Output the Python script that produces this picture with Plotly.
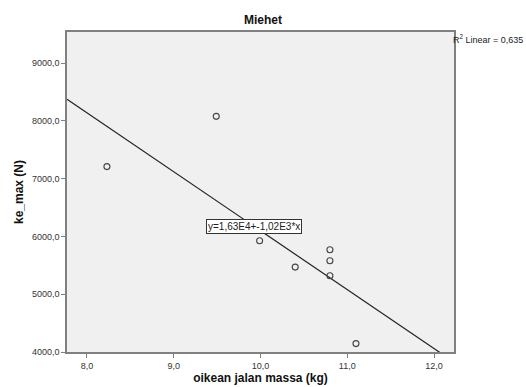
import plotly.graph_objects as go

# Data
mass_kg = [8.23, 9.49, 9.99, 10.40, 10.80, 10.80, 10.80, 11.10]
ke_max_n = [7210, 8080, 5925, 5470, 5770, 5580, 5320, 4145]

intercept = 16300.0
slope = -1020.0
r2_text = "R<sup>2</sup> Linear = 0,635"
eq_text = "y=1,63E4+-1,02E3*x"

x_range = [7.77, 12.23]
y_range = [4000, 9540]
x_ticks = [8, 9, 10, 11, 12]
y_ticks = [4000, 5000, 6000, 7000, 8000, 9000]

line_x = [x_range[0], x_range[1]]
line_y = [intercept + slope * v for v in line_x]

font = "Liberation Sans, Arial, sans-serif"

fig = go.Figure()
fig.add_trace(go.Scatter(x=line_x, y=line_y, mode="lines",
                         line=dict(color="#222222", width=1.2),
                         hoverinfo="skip", showlegend=False))
fig.add_trace(go.Scatter(x=mass_kg, y=ke_max_n, mode="markers",
                         marker=dict(symbol="circle-open", size=6,
                                     color="#444444", line=dict(width=1.1)),
                         showlegend=False))

fig.add_annotation(x=9.92, y=6170, xref="x", yref="y", text=eq_text,
                   showarrow=False, bgcolor="white", bordercolor="#333333",
                   borderwidth=1, borderpad=1,
                   font=dict(family=font, size=10, color="#222222"))
fig.add_annotation(x=1.0, y=1.0, xref="paper", yref="paper", text=r2_text,
                   showarrow=False, xanchor="left", yanchor="top",
                   xshift=-3, yshift=1,
                   font=dict(family=font, size=9, color="#222222"))

fig.update_layout(
    width=526, height=387,
    margin=dict(l=67, r=72, t=32, b=35, autoexpand=False),
    paper_bgcolor="white", plot_bgcolor="#F0F0F0",
    separators=", ",
    title=dict(text="<b>Miehet</b>", x=0.5, xanchor="center", y=0.948,
               yanchor="middle", automargin=False,
               font=dict(family=font, size=12, color="#111111")),
    font=dict(family=font, color="#222222"),
)
fig.update_xaxes(range=x_range, tickvals=x_ticks, tickformat=".1f",
                 showgrid=False, zeroline=False, automargin=False,
                 showline=True, mirror=True, linecolor="#808080", linewidth=1.5,
                 ticks="outside", ticklen=4, tickcolor="#808080",
                 tickfont=dict(family=font, size=9, color="#333333"),
                 title=dict(text="<b>oikean jalan massa (kg)</b>", standoff=4,
                            font=dict(family=font, size=12, color="#111111")))
fig.update_yaxes(range=y_range, tickvals=y_ticks, tickformat=".1f",
                 showgrid=False, zeroline=False, automargin=False,
                 showline=True, mirror=True, linecolor="#808080", linewidth=1.5,
                 ticks="outside", ticklen=4, tickcolor="#808080",
                 tickfont=dict(family=font, size=9, color="#333333"),
                 title=dict(text="<b>ke_max (N)</b>", standoff=6,
                            font=dict(family=font, size=12, color="#111111")))

fig.write_html("out.html", config={"displayModeBar": False},
               post_script="document.body.style.margin='0';document.body.style.overflow='hidden';")
